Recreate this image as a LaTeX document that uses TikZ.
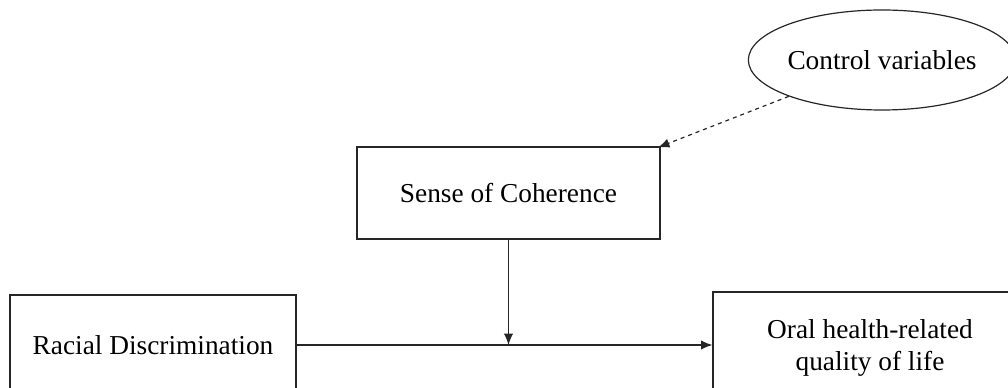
\documentclass[tikz,border=0pt]{standalone}
\usepackage{fontspec}
\setmainfont{Liberation Serif}
\usetikzlibrary{shapes.geometric,arrows.meta,positioning}
\tikzset{
    box/.style={draw=black!85, line width=0.9pt, rectangle, align=center},
    oval/.style={draw=black!85, line width=0.9pt, ellipse, inner sep=0pt},
    link/.style={draw=black!85, line width=0.9pt, -{Latex[length=8.5pt,width=7pt]}},
}

\begin{document}
\begin{tikzpicture}[x=0.75pt,y=-0.75pt,font=\fontsize{20.5}{23.5}\selectfont]
    \clip (0,0) rectangle (1008,388);

    \node[box, minimum width=303*0.75pt, minimum height=92*0.75pt] (sense) at (508.5,193) {Sense of Coherence};
    \node[oval, minimum width=258*0.75pt, minimum height=100*0.75pt] (control) at (882,60) {Control variables};
    \node[box, minimum width=286*0.75pt, minimum height=100*0.75pt] (racial) at (153,345) {Racial Discrimination};
    \node[box, minimum width=314*0.75pt, minimum height=112*0.75pt] (oral) at (870,348) {Oral health-related\\quality of life};

    \coordinate (join) at (sense.south |- racial.east);

    \path (racial) edge[link] (racial.east -| oral.west);
    \path (sense) edge[link] (join);
    \path (control) edge[link, dashed, shorten >=-2pt] (sense.north east);
\end{tikzpicture}
\end{document}
